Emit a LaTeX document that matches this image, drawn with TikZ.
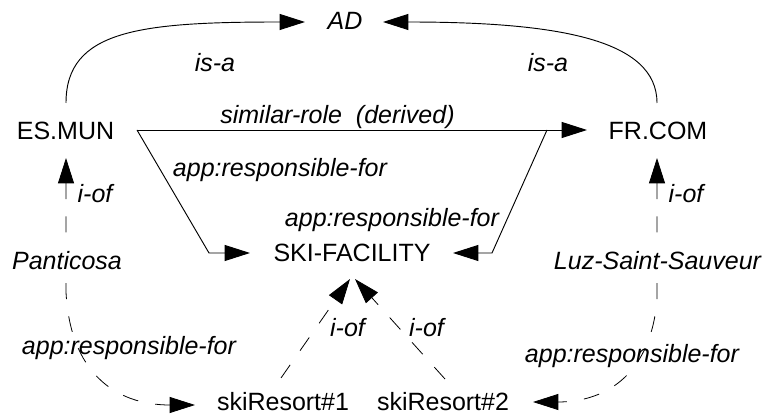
\documentclass[tikz,border=0pt]{standalone}
\usepackage{fontspec}
\setmainfont{Liberation Sans}
\usetikzlibrary{arrows.meta,calc}
\begin{document}
\begin{tikzpicture}[x=0.75pt,y=-0.75pt,
  >={Triangle[length=19pt,width=12pt]},
  every node/.style={font=\fontsize{18.75pt}{22pt}\selectfont, inner sep=0pt, anchor=base},
  concept/.style={},
  rel/.style={font=\fontsize{18.75pt}{22pt}\selectfont\itshape},
  gaplabel/.style={rel, fill=white, inner ysep=5pt},
  link/.style={line width=0.7pt, ->},
  inst/.style={line width=0.6pt, dash pattern=on 12pt off 13pt},
]
\path[use as bounding box] (0,0) rectangle (768,416);

% concepts and instances
\node[concept] (ad)    at (345,30)    {\itshape AD};
\node[concept] (esmun) at (65.5,139.5) {ES.MUN};
\node[concept] (frcom) at (658,139.5) {FR.COM};
\node[concept] (ski)   at (352,261.5) {SKI-FACILITY};
\node[concept] (sr1)   at (283,411)   {skiResort\#1};
\node[concept] (sr2)   at (443,411)   {skiResort\#2};

% is-a links to AD
\draw[link] ($(esmun.base)+(0.5,-36.5)$) .. controls +(0,-73) and +(-165,0) .. ($(ad.base)+(-40,-8)$);
\draw[link] ($(frcom.base)+(-1,-36.5)$) .. controls +(0,-63) and +(177,0) .. ($(ad.base)+(38,-8)$);

% derived similar-role link
\draw[link] ($(esmun.base)+(71.5,-9.5)$) coordinate (srL) -- ($(frcom.base)+(-71,-9.5)$);
\coordinate (srR) at ($(frcom.base)+(-111,-9.5)$);

% responsible-for links to SKI-FACILITY
\draw[link] (srL) -- ($(ski.base)+(-143,-8.5)$) -- ($(ski.base)+(-102,-8.5)$);
\draw[link] (srR) -- ($(ski.base)+(140,-8.5)$) -- ($(ski.base)+(101,-8.5)$);

% instance-level links
\draw[inst,<->] ($(esmun.base)+(0.5,18.5)$) -- ++(0,134)
  .. controls +(4,80) and +(-80,0) .. ($(sr1.base)+(-88,-6)$);
\draw[inst,<->] ($(frcom.base)+(-1,18.5)$) -- ++(0,142)
  .. controls +(-7,80) and +(67,0) .. ($(sr2.base)+(90,-9)$);
\draw[inst,->] ($(sr1.base)+(-2,-33)$) -- ($(ski.base)+(-2,17.5)$);
\draw[inst,->] ($(sr2.base)+(2,-32)$) -- ($(ski.base)+(3,17.5)$);

% relation labels
\node[rel] at (215,72)    {is-a};
\node[rel] at (548,72)    {is-a};
\node[rel] at (337.5,123.3) {similar-role\ \ (derived)};
\node[rel] at (280,177)   {app:responsible-for};
\node[rel] at (392,227)   {app:responsible-for};
\node[rel] at (95,203)    {i-of};
\node[rel] at (686,203)   {i-of};
\node[gaplabel] at (67,270)    {Panticosa};
\node[gaplabel] at (657.5,270) {Luz-Saint-Sauveur};
\node[rel] at (129,355)   {app:responsible-for};
\node[rel] at (632,363)   {app:responsible-for};
\node[rel] at (347.5,337) {i-of};
\node[rel] at (426.5,337) {i-of};
\end{tikzpicture}
\end{document}
